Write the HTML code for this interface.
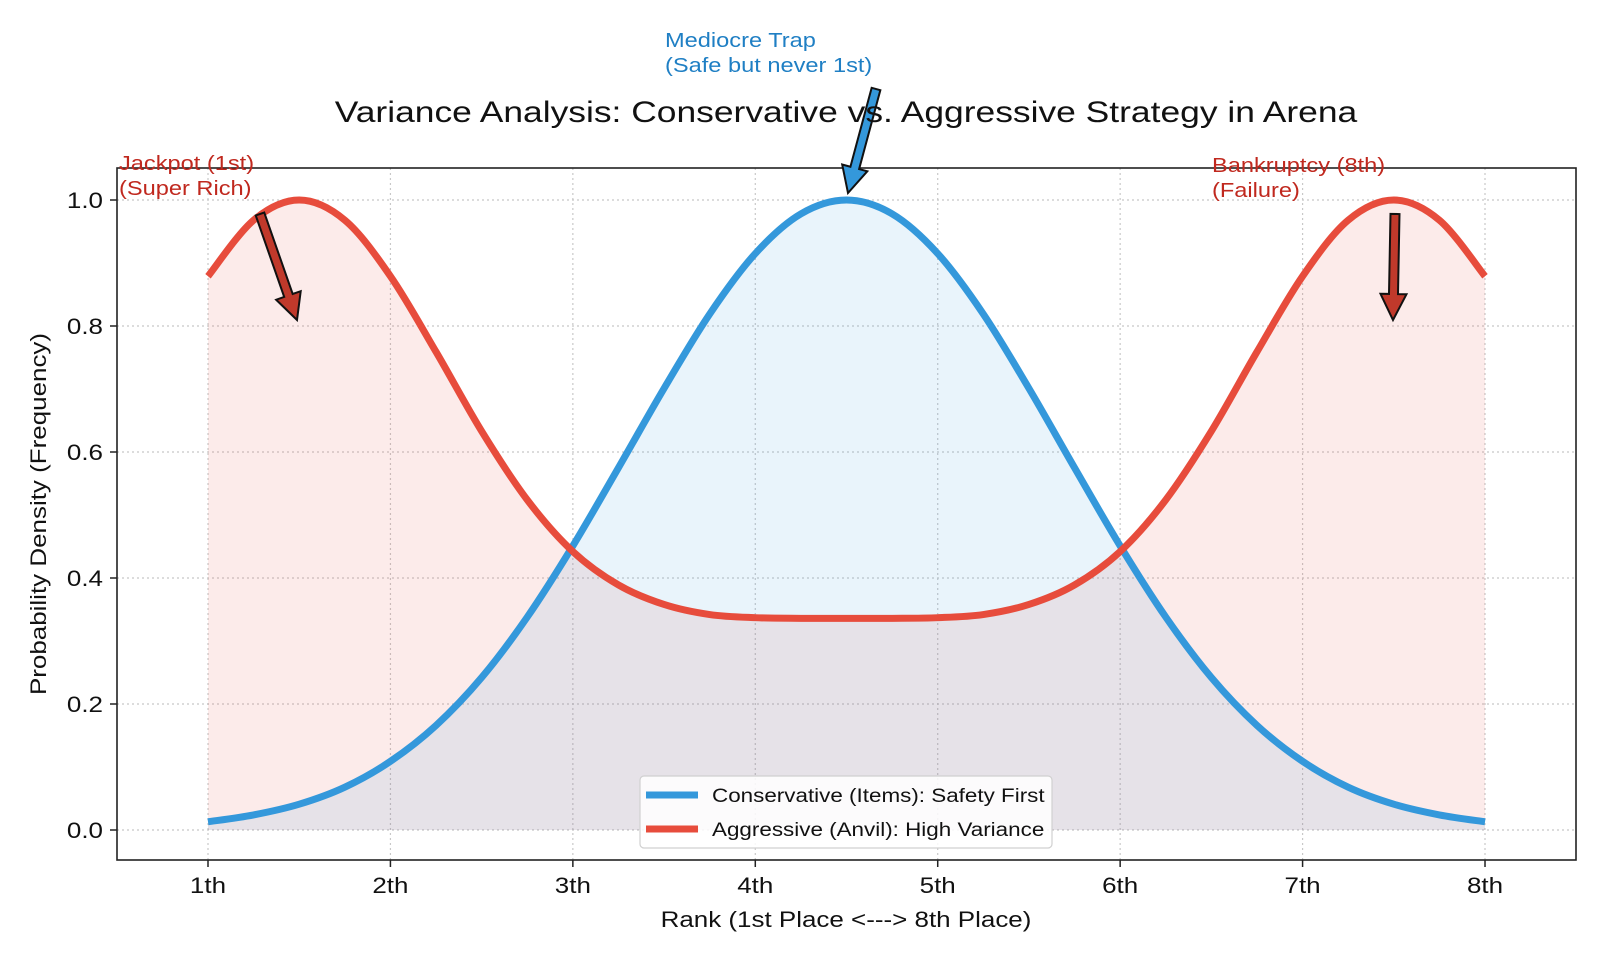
<!DOCTYPE html>
<html><head><meta charset="utf-8"><style>
html,body{margin:0;padding:0;background:#fff;}
svg{display:block;font-family:"Liberation Sans",sans-serif;}
</style></head><body>
<svg id="chart" width="1600" height="960" viewBox="0 0 1600 960"></svg>
<script>
const xs = [1,1.25,1.5,1.75,2,2.25,2.5,2.75,3,3.25,3.5,3.75,4,4.25,4.5,4.75,5,5.25,5.5,5.75,6,6.25,6.5,6.75,7,7.25,7.5,7.75,8];
const conservative = [0.013,0.024,0.041,0.068,0.109,0.166,0.242,0.338,0.451,0.575,0.701,0.819,0.915,0.978,1.0,0.978,0.915,0.819,0.701,0.575,0.451,0.338,0.242,0.166,0.109,0.068,0.041,0.024,0.013];
const aggressive = [0.879,0.968,1.0,0.968,0.879,0.759,0.633,0.524,0.442,0.389,0.358,0.342,0.337,0.336,0.336,0.336,0.337,0.342,0.358,0.389,0.442,0.524,0.633,0.759,0.879,0.968,1.0,0.968,0.879];
const xTickLabels = ['1th','2th','3th','4th','5th','6th','7th','8th'];
const yTicks = [0.0,0.2,0.4,0.6,0.8,1.0];

const svg = document.getElementById('chart');
const NS = 'http://www.w3.org/2000/svg';
const L=117,R=1576,T=168,B=860;
const X = v => 208 + (v-1)*182.43;
const Y = v => 830 - v*630;
function mk(tag, attrs, parent){const e=document.createElementNS(NS,tag);for(const k in attrs)e.setAttribute(k,attrs[k]);(parent||svg).appendChild(e);return e;}

xTickLabels.forEach((t,i)=>{
  const g=mk('line',{x1:X(i+1),x2:X(i+1),y1:T,y2:B,stroke:'#c8c8c8','stroke-width':1.2,'stroke-dasharray':'2,3'});
  
  
});
yTicks.forEach(v=>{
  const g=mk('line',{x1:L,x2:R,y1:Y(v),y2:Y(v),stroke:'#c8c8c8','stroke-width':1.2,'stroke-dasharray':'2,3'});
  
  
});

function smooth(vals){
  const p=xs.map((x,i)=>[X(x),Y(vals[i])]);
  let d='M'+p[0][0]+','+p[0][1];
  for(let i=0;i<p.length-1;i++){
    const p0=p[Math.max(0,i-1)],p1=p[i],p2=p[i+1],p3=p[Math.min(p.length-1,i+2)];
    const c1=[p1[0]+(p2[0]-p0[0])/6,p1[1]+(p2[1]-p0[1])/6];
    const c2=[p2[0]-(p3[0]-p1[0])/6,p2[1]-(p3[1]-p1[1])/6];
    d+=` C${c1[0]},${c1[1]} ${c2[0]},${c2[1]} ${p2[0]},${p2[1]}`;
  }
  return d;
}
const base=` L${X(xs[xs.length-1])},${Y(0)} L${X(xs[0])},${Y(0)} Z`;
const fa=mk('path',{d:smooth(aggressive)+base,fill:'#e74c3c','fill-opacity':0.11});


const fc=mk('path',{d:smooth(conservative)+base,fill:'#3498db','fill-opacity':0.11});


const lc=mk('path',{d:smooth(conservative),fill:'none',stroke:'#3498db','stroke-width':7});


const la=mk('path',{d:smooth(aggressive),fill:'none',stroke:'#e74c3c','stroke-width':7});



const fr=mk('rect',{x:L,y:T,width:R-L,height:B-T,fill:'none',stroke:'#222','stroke-width':1.6});



const stretch=[];
xTickLabels.forEach((t,i)=>{
  mk('line',{x1:X(i+1),x2:X(i+1),y1:B,y2:B+7,stroke:'#222','stroke-width':1.5});
  const tx=mk('text',{x:X(i+1),y:893,'text-anchor':'middle','font-size':22,fill:'#111'});
  tx.textContent=t;
  
  
  stretch.push(tx);
});
yTicks.forEach(v=>{
  mk('line',{x1:L-7,x2:L,y1:Y(v),y2:Y(v),stroke:'#222','stroke-width':1.5});
  const tx=mk('text',{x:L-14,y:Y(v)+8,'text-anchor':'end','font-size':22,fill:'#111'});
  tx.textContent=v.toFixed(1);
  
  
  stretch.push(tx);
});

function arrow(x1,y1,x2,y2,color,name){
  const dx=x2-x1,dy=y2-y1,len=Math.hypot(dx,dy),ux=dx/len,uy=dy/len,nx=-uy,ny=ux;
  const hw=4.5,HW=13,HL=26;
  const bx=x2-ux*HL,by=y2-uy*HL;
  const pts=[[x1+nx*hw,y1+ny*hw],[bx+nx*hw,by+ny*hw],[bx+nx*HW,by+ny*HW],[x2,y2],[bx-nx*HW,by-ny*HW],[bx-nx*hw,by-ny*hw],[x1-nx*hw,y1-ny*hw]];
  const a=mk('polygon',{points:pts.map(p=>p.join(',')).join(' '),fill:color,stroke:'#111','stroke-width':2,'stroke-linejoin':'miter'});
  
  
}
arrow(260,214,297,320,'#c0392b','jackpot-arrow');
arrow(876,89,848,193,'#3498db','mediocre-arrow');
arrow(1395,214,1393,320,'#c0392b','bankruptcy-arrow');

function txt(lines,x,y,color,size,name,anchor){
  const t=mk('text',{x:x,y:y,'font-size':size,fill:color,'text-anchor':anchor||'start'});
  lines.forEach((l,i)=>{const s=mk('tspan',{x:x,dy:i?size*1.25:0},t);s.textContent=l;stretch.push(s);});
  
  
}
txt(['Jackpot (1st)','(Super Rich)'],119,170,'#c0281e',20,'jackpot-annotation');
txt(['Mediocre Trap','(Safe but never 1st)'],665,47,'#1f7fc4',20,'mediocre-annotation');
txt(['Bankruptcy (8th)','(Failure)'],1212,172,'#c0281e',20,'bankruptcy-annotation');
txt(['Variance Analysis: Conservative vs. Aggressive Strategy in Arena'],846,122,'#111',30,'chart-title','middle');
txt(['Rank (1st Place <---> 8th Place)'],846,927,'#111',22,'x-axis-title','middle');
const yt=mk('text',{x:0,y:0,'font-size':22,fill:'#111','text-anchor':'middle',transform:'translate(46,514) rotate(-90)'});
yt.textContent='Probability Density (Frequency)';


stretch.push(yt);

const lg=mk('g',{});


mk('rect',{x:640,y:776,width:412,height:72,rx:4,fill:'#fff','fill-opacity':0.85,stroke:'#d0d0d0','stroke-width':1.2},lg);
[['Conservative (Items): Safety First','#3498db'],['Aggressive (Anvil): High Variance','#e74c3c']].forEach((e,i)=>{
  const g=mk('g',{},lg);
  
  
  const yy=795+i*34;
  mk('line',{x1:646,x2:698,y1:yy,y2:yy,stroke:e[1],'stroke-width':7},g);
  const t=mk('text',{x:712,y:yy+7,'font-size':19,fill:'#111'},g);
  t.textContent=e[0];
  stretch.push(t);
});

// widen text to match the reference's wider typeface
stretch.forEach(el=>{
  const w=el.getComputedTextLength();
  el.setAttribute('textLength',(w*1.18).toFixed(1));
  el.setAttribute('lengthAdjust','spacingAndGlyphs');
});
</script>
</body></html>
